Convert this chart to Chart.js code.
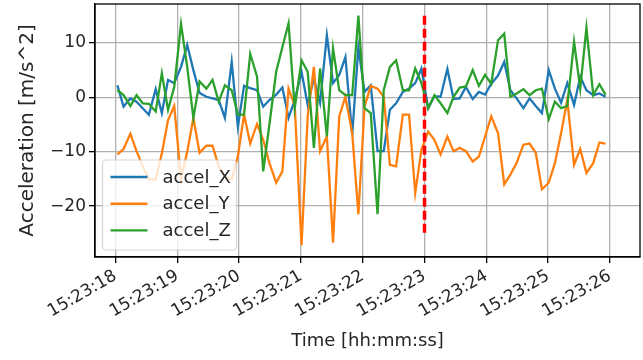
<!DOCTYPE html>
<html>
<head>
<meta charset="utf-8">
<script src="https://cdn.jsdelivr.net/npm/chart.js@4.4.1/dist/chart.umd.min.js"></script>
<style>
  html, body { margin: 0; padding: 0; background: #fff; }
  #wrap { width: 643px; height: 360px; }
</style>
</head>
<body>
<div id="wrap"><canvas id="accel-chart" width="643" height="360"></canvas></div>
<script>
// seconds after 15:23:00
var times = [18.03, 18.13, 18.24, 18.34, 18.44, 18.54, 18.65, 18.75, 18.85, 18.95,
  19.06, 19.16, 19.26, 19.36, 19.47, 19.57, 19.67, 19.77, 19.88, 19.98,
  20.08, 20.18, 20.29, 20.39, 20.49, 20.60, 20.70, 20.80, 20.90, 21.01,
  21.11, 21.21, 21.31, 21.42, 21.52, 21.62, 21.72, 21.83, 21.93, 22.03,
  22.13, 22.24, 22.34, 22.44, 22.54, 22.65, 22.75, 22.85, 22.95, 23.06,
  23.16, 23.26, 23.37, 23.47, 23.57, 23.67, 23.78, 23.88, 23.98, 24.08,
  24.19, 24.29, 24.39, 24.49, 24.60, 24.70, 24.80, 24.90, 25.01, 25.11,
  25.21, 25.31, 25.42, 25.52, 25.62, 25.73, 25.83, 25.93];

var accelX = [2.2, -1.7, -0.2, -0.8, -2.0, -3.2, 1.5, -2.9, 3.2, 2.6,
  5.6, 9.6, 5.0, 0.8, 0.1, -0.2, -0.5, -3.8, 6.5, -5.4,
  2.1, 1.7, 1.3, -1.7, -0.5, 0.5, 1.8, -3.8, -0.5, 4.7,
  -1.4, 3.5, -1.0, 11.4, 2.6, 4.1, 7.4, -6.9, 9.2, 1.0,
  2.2, -9.9, -9.9, -2.3, -1.1, 1.0, 1.6, 2.6, 5.3, -2.0,
  0.2, 0.1, 5.2, -0.3, -0.2, 1.9, -0.3, 1.0, 0.5, 2.5,
  4.0, 6.5, 1.3, -0.2, -2.0, -0.2, -1.6, -2.9, 5.0, 1.6,
  -1.0, 2.6, -1.4, 3.8, 1.3, 0.4, 0.7, 0.1];

var accelY = [-10.5, -9.5, -6.7, -9.9, -12.7, -15.1, -15.1, -10.3, -4.2, -1.6,
  -15.0, -10.0, -3.8, -10.2, -8.9, -8.9, -12.7, -14.5, -15.1, -10.8,
  -3.2, -8.5, -4.9, -7.8, -12.1, -15.7, -13.6, 1.6, -1.5, -27.2,
  -3.5, 5.6, -9.9, -7.2, -26.7, -3.5, 0.1, -6.6, -21.5, -1.7,
  2.1, 1.6, 0.1, -12.4, -12.7, -3.2, -3.2, -17.6, -9.6, -6.3,
  -7.8, -10.5, -7.2, -9.9, -9.3, -9.9, -11.8, -10.9, -7.2, -3.5,
  -6.6, -16.0, -14.2, -12.1, -8.7, -8.5, -10.2, -16.9, -15.7, -12.1,
  -6.6, -0.5, -12.4, -9.5, -13.9, -12.1, -8.3, -8.5];

var accelZ = [1.3, 0.4, -1.6, 0.4, -1.1, -1.2, -2.6, 4.4, -2.3, 1.9,
  13.5, 5.6, -3.8, 2.9, 1.6, 3.2, -0.8, 2.2, 1.3, -3.2,
  -3.2, 8.0, 3.8, -13.6, -5.0, 4.7, 9.2, 13.6, -2.0, 6.8,
  4.7, -9.3, 5.3, -7.2, 9.0, 1.3, 0.4, 0.4, 15.0, -2.0,
  -2.9, -21.5, 1.3, 5.6, 6.8, 1.3, 1.3, 5.3, 2.6, -2.0,
  0.4, -1.1, -2.9, 0.1, 1.8, 2.0, 5.0, 2.1, 4.1, 2.5,
  10.5, 11.7, 0.1, 0.7, 1.5, 0.4, 1.3, 1.6, -4.0, -0.8,
  -2.0, -1.6, 10.2, 1.6, 12.8, 0.4, 2.4, 0.5];

var seriesNames = ["accel_X", "accel_Y", "accel_Z"];
var markerTime = 23;          // 15:23:23
var markerSpan = [15, -25];
var xTicks = [18, 19, 20, 21, 22, 23, 24, 25, 26];
var yTicks = [-20, -10, 0, 10];

function pts(vals) {
  var out = [];
  for (var i = 0; i < times.length; i++) out.push({x: times[i], y: vals[i]});
  return out;
}

var FONT = "'DejaVu Sans', sans-serif";

// black frame on all four sides + matplotlib style legend in lower left
var frameAndLegend = {
  id: 'frameAndLegend',
  afterDatasetsDraw: function(chart) {
    var ctx = chart.ctx, a = chart.chartArea;
    ctx.save();
    ctx.strokeStyle = '#000';
    ctx.lineWidth = 1.3;
    ctx.strokeRect(a.left, a.top, a.right - a.left, a.bottom - a.top);

    var bx = a.left + 7.5, by = a.bottom - 97, bw = 134, bh = 90;
    ctx.beginPath();
    ctx.roundRect(bx, by, bw, bh, 4);
    ctx.fillStyle = 'rgba(255,255,255,0.8)';
    ctx.fill();
    ctx.strokeStyle = 'rgba(204,204,204,0.8)';
    ctx.lineWidth = 1.2;
    ctx.stroke();

    var sets = chart.data.datasets.filter(function(d) { return !d.isMarker; });
    ctx.font = "18px " + FONT;
    ctx.textBaseline = 'middle';
    ctx.textAlign = 'left';
    sets.forEach(function(d, i) {
      var ry = by + 17 + i * 26.7;
      ctx.strokeStyle = d.borderColor;
      ctx.lineWidth = 2.4;
      ctx.beginPath();
      ctx.moveTo(bx + 8, ry);
      ctx.lineTo(bx + 45, ry);
      ctx.stroke();
      ctx.fillStyle = '#262626';
      ctx.fillText(d.label, bx + 60, ry + 1);
    });
    ctx.restore();
  }
};

new Chart(document.getElementById("accel-chart"), {
  type: 'line',
  data: {
    datasets: [
      { label: seriesNames[0], data: pts(accelX), borderColor: "#1f77b4", order: 3 },
      { label: seriesNames[1], data: pts(accelY), borderColor: "#ff7f0e", order: 2 },
      { label: seriesNames[2], data: pts(accelZ), borderColor: "#2ca02c", order: 1 },
      {
        label: "marker", isMarker: true, order: 0,
        data: markerSpan.map(function(v) { return {x: markerTime, y: v}; }),
        borderColor: "#ff0000", borderWidth: 3.5, borderDash: [9, 4]
      }
    ]
  },
  options: {
    responsive: false,
    animation: false,
    devicePixelRatio: 1,
    layout: { padding: { left: 0, right: 3, top: 4, bottom: 0 } },
    elements: {
      line: { borderWidth: 2.3, tension: 0, fill: false },
      point: { radius: 0, hoverRadius: 0 }
    },
    plugins: {
      legend: { display: false },
      tooltip: { enabled: false }
    },
    scales: {
      x: {
        type: 'linear',
        min: 17.668,
        max: 26.487,
        afterFit: function(s) { s.height = 103; s.paddingLeft = 0; s.paddingRight = 0; },
        afterBuildTicks: function(s) { s.ticks = xTicks.map(function(v) { return {value: v}; }); },
        grid: { color: '#b0b0b0', lineWidth: 1.3, tickColor: '#000', tickLength: 6 },
        border: { color: '#000', width: 1.3 },
        ticks: {
          color: '#262626',
          font: { family: FONT, size: 17 },
          minRotation: 30, maxRotation: 30,
          padding: 3,
          callback: function(v) { return "15:23:" + (v < 10 ? "0" : "") + v; }
        },
        title: {
          display: true, text: "Time [hh:mm:ss]", color: '#262626',
          font: { family: FONT, size: 18 },
          padding: { top: 0, bottom: 8 }
        }
      },
      y: {
        min: -29.35,
        max: 17.15,
        afterFit: function(s) { s.width = 95; s.paddingTop = 0; s.paddingBottom = 0; },
        afterBuildTicks: function(s) { s.ticks = yTicks.map(function(v) { return {value: v}; }); },
        grid: { color: '#b0b0b0', lineWidth: 1.3, tickColor: '#000', tickLength: 6 },
        border: { color: '#000', width: 1.3 },
        ticks: {
          color: '#262626',
          font: { family: FONT, size: 17 },
          padding: 3,
          callback: function(v) { return v < 0 ? "\u2212" + Math.abs(v) : String(v); }
        },
        title: {
          display: true, text: "Acceleration [m/s^2]", color: '#262626',
          font: { family: FONT, size: 20 },
          padding: { top: 16, bottom: 0 }
        }
      }
    }
  },
  plugins: [frameAndLegend]
});
</script>
</body>
</html>
